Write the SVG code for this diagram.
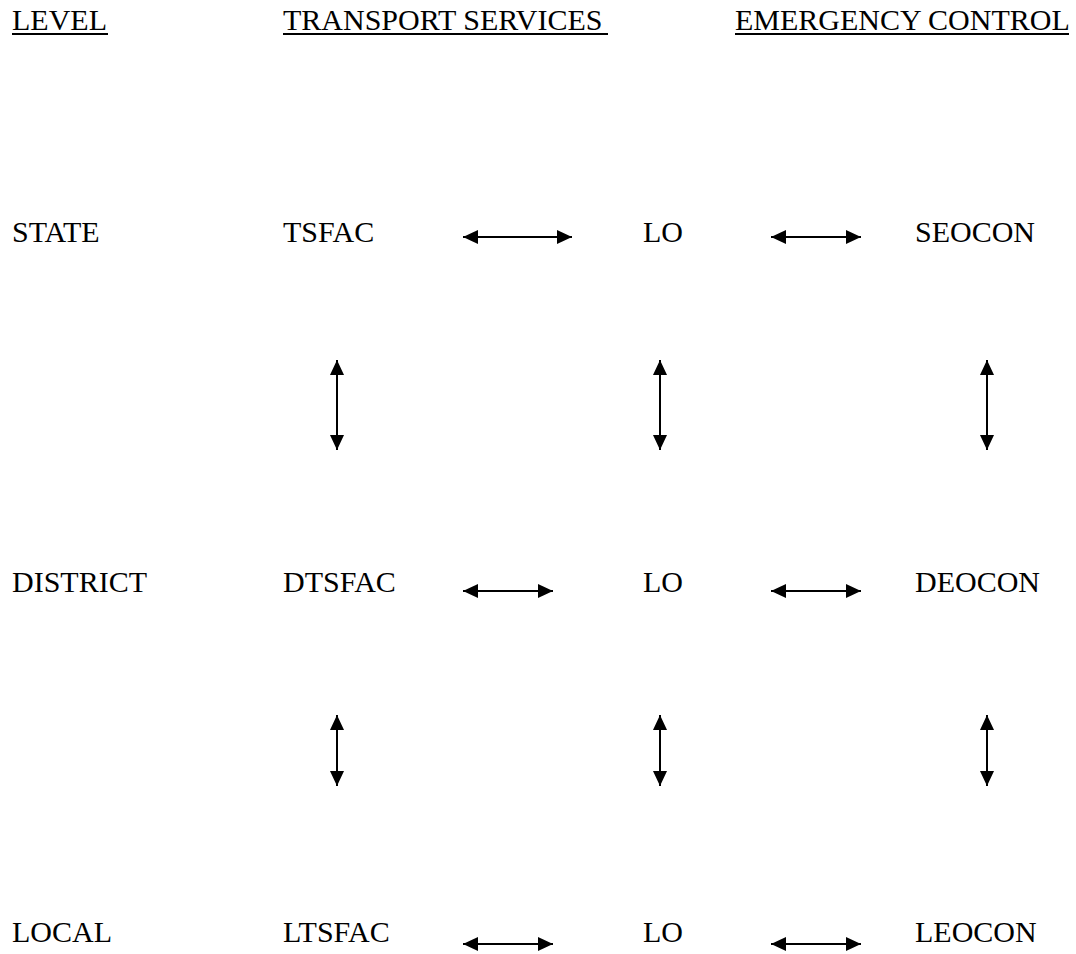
<svg xmlns="http://www.w3.org/2000/svg" width="1076" height="954" viewBox="0 0 1076 954">
<style>
text{font-family:"Liberation Serif","Times New Roman",serif;font-size:30px;fill:#000}
.ul{stroke:#000;stroke-width:2}
.c{stroke:#000;stroke-width:2;fill:none;marker-start:url(#ah);marker-end:url(#ah)}
</style>
<defs>
<marker id="ah" markerUnits="userSpaceOnUse" markerWidth="16" markerHeight="15" refX="15" refY="7" orient="auto-start-reverse" viewBox="0 0 16 14">
<path d="M0,0 L15,7 L0,14 z" fill="#000"/>
</marker>
</defs>
<rect width="1076" height="954" fill="#fff"/>
<g id="headers">
<g id="h-level"><text x="12" y="30">LEVEL</text><line class="ul" x1="12" y1="34" x2="108" y2="34"/></g>
<g id="h-transport"><text x="283" y="30">TRANSPORT SERVICES</text><line class="ul" x1="283" y1="34" x2="608" y2="34"/></g>
<g id="h-emergency"><text x="735" y="30">EMERGENCY CONTROL</text><line class="ul" x1="735" y1="34" x2="1069" y2="34"/></g>
</g>
<g id="state"><text x="12" y="242">STATE</text></g>
<g id="tsfac"><text x="283" y="242">TSFAC</text></g>
<g id="lo1"><text x="643" y="242">LO</text></g>
<g id="seocon"><text x="915" y="242">SEOCON</text></g>
<g id="district"><text x="12" y="592">DISTRICT</text></g>
<g id="dtsfac"><text x="283" y="592">DTSFAC</text></g>
<g id="lo2"><text x="643" y="592">LO</text></g>
<g id="deocon"><text x="915" y="592">DEOCON</text></g>
<g id="local"><text x="12" y="942">LOCAL</text></g>
<g id="ltsfac"><text x="283" y="942">LTSFAC</text></g>
<g id="lo3"><text x="643" y="942">LO</text></g>
<g id="leocon"><text x="915" y="942">LEOCON</text></g>
<g id="connectors">
<line class="c" x1="463" y1="237" x2="572" y2="237"/>
<line class="c" x1="771" y1="237" x2="861" y2="237"/>
<line class="c" x1="463" y1="591" x2="553" y2="591"/>
<line class="c" x1="771" y1="591" x2="861" y2="591"/>
<line class="c" x1="463" y1="944" x2="553" y2="944"/>
<line class="c" x1="771" y1="944" x2="861" y2="944"/>
<line class="c" x1="337" y1="360" x2="337" y2="450"/>
<line class="c" x1="660" y1="360" x2="660" y2="450"/>
<line class="c" x1="987" y1="360" x2="987" y2="450"/>
<line class="c" x1="337" y1="715" x2="337" y2="786"/>
<line class="c" x1="660" y1="715" x2="660" y2="786"/>
<line class="c" x1="987" y1="715" x2="987" y2="786"/>
</g>
</svg>
